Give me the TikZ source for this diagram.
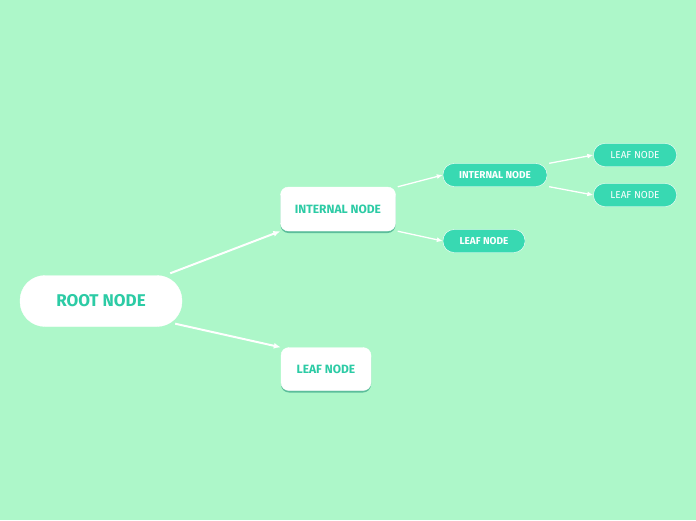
\documentclass[tikz,border=0pt]{standalone}
\usepackage{fontspec}
\setmainfont{Fira Sans}
\usetikzlibrary{arrows.meta,shadows}
\definecolor{bg}{HTML}{ADF7C9}
\definecolor{teal}{HTML}{38D9B2}
\definecolor{tealtxt}{HTML}{2CCBA5}
\begin{document}
\begin{tikzpicture}[x=1pt,y=-1pt,
  big/.style={draw=white,fill=white,rounded corners=25pt,minimum width=162pt,minimum height=51pt,text=tealtxt,font=\bfseries\fontsize{17}{17}\selectfont},
  mid/.style={draw=white,fill=white,rounded corners=8pt,drop shadow={shadow xshift=0pt,shadow yshift=-2pt,fill=teal!70!black,opacity=.6},text=tealtxt,font=\bfseries\fontsize{12}{12}\selectfont},
  small/.style={draw=white,fill=teal,rounded corners=11pt,minimum height=23pt,text=white,font=\bfseries\fontsize{10}{10}\selectfont},
  conn/.style={white,line width=2pt,-{Latex[length=7pt,width=6pt]}},
  conn2/.style={white,line width=1.3pt,-{Latex[length=6pt,width=5pt]}}]
\fill[bg] (0,0) rectangle (696,520);
\useasboundingbox (0,0) rectangle (696,520);
\node[big] (root) at (101,301) {ROOT NODE};
\node[mid,minimum width=115pt,minimum height=44pt] (int) at (338,209) {INTERNAL NODE};
\node[mid,minimum width=90pt,minimum height=43pt] (leaf) at (326,369) {LEAF NODE};
\node[small,minimum width=104pt] (int2) at (495,175) {INTERNAL NODE};
\node[small,minimum width=82pt] (leaf2) at (484,241) {LEAF NODE};
\node[small,minimum width=83pt,font=\fontsize{10}{10}\selectfont] (leaf3) at (635,155) {LEAF NODE};
\node[small,minimum width=83pt,font=\fontsize{10}{10}\selectfont] (leaf4) at (635,195) {LEAF NODE};
\draw[conn] (root.north east)++(-12,-2) coordinate (a1) -- (int.south west);
\draw[conn] (root.south east)++(-7,-3) coordinate (a2) -- (leaf.north west);
\draw[conn2] ([xshift=2pt]int.north east) -- (int2.west);
\draw[conn2] ([xshift=2pt]int.south east) -- (leaf2.west);
\draw[conn2] ([xshift=2pt]int2.north east) -- (leaf3.west);
\draw[conn2] ([xshift=2pt]int2.south east) -- (leaf4.west);
\end{tikzpicture}
\end{document}
